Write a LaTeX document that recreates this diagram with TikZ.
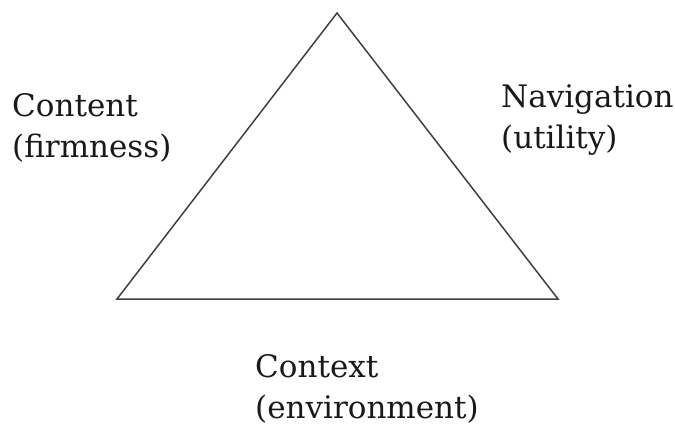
\documentclass[tikz,border=0pt]{standalone}
\usepackage{fontspec}
\setmainfont{DejaVu Serif}
\begin{document}
\begin{tikzpicture}[x=1pt,y=-1pt,
  lbl/.style={anchor=base west,inner sep=0pt,align=left,font=\fontsize{31}{41}\selectfont,text=black!90}]
\useasboundingbox (0,0) rectangle (675,429);
\coordinate (top) at (337,13);
\coordinate (bl) at (117,299);
\coordinate (br) at (558,299);
\draw[line width=1.5pt,black!75,line join=miter] (top) -- (bl) -- (br) -- cycle;
\node[lbl] (content) at (12,157) {Content\\(firmness)};
\node[lbl] (nav) at (501,148) {Navigation\\(utility)};
\node[lbl] (context) at (255,418) {Context\\(environment)};
\end{tikzpicture}
\end{document}
